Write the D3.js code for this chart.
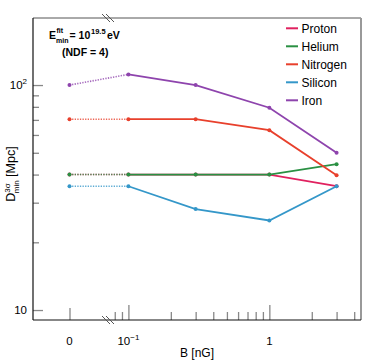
<!DOCTYPE html>
<html>
<head>
<meta charset="utf-8">
<script src="https://cdn.jsdelivr.net/npm/d3@7"></script>
<style>
  body { margin: 0; background: #fff; }
  text { font-family: "Liberation Sans", Arial, sans-serif; }
</style>
</head>
<body>
<div id="chart"></div>
<script>
// data, B = 0 drawn on its own linear piece left of the break
var fields = [0, 0.1, 0.3, 1, 3];
var names = ["Proton", "Helium", "Nitrogen", "Silicon", "Iron"];
var colors = ["#e0215f", "#2a9043", "#e8402c", "#3497c9", "#8e44ad"];
var proton   = [40, 40, 40, 40, 35.5];
var helium   = [40, 40, 40, 40, 44.5];
var nitrogen = [70.5, 70.5, 70.5, 63, 39.7];
var silicon  = [35.5, 35.5, 28.1, 25, 35.5];
var iron     = [100, 111.5, 100, 79.3, 50];
var series = [proton, helium, nitrogen, silicon, iron];

var yMajor = [10, 100];
var yMinor = [20, 30, 40, 50, 60, 70, 80, 90];
var xMajor = [0.1, 1];
var xMinor = [0.08, 0.09, 0.2, 0.3, 0.4, 0.5, 0.6, 0.7, 0.8, 0.9, 2, 3, 4];

var width = 374, height = 364;
var fLeft = 33, fRight = 361, fTop = 18, fBottom = 320;
var breakX = 108.3;

var svg = d3.select("#chart").append("svg")
    .attr("width", width)
    .attr("height", height);

var y = d3.scaleLog().domain([9.03, 198.6]).range([fBottom, fTop]);
var xZero = d3.scaleLinear().domain([-0.5, 0.5]).range([33, 106]);
var xLog = d3.scaleLog().domain([0.072, 4.47]).range([breakX, fRight]);
function xPos(v) { return v === 0 ? xZero(0) : xLog(v); }

// frame
svg.append("line").attr("x1", fLeft).attr("x2", fRight).attr("y1", fTop).attr("y2", fTop)
    .attr("stroke", "#555").attr("stroke-width", 1);
svg.append("line").attr("x1", fRight).attr("x2", fRight).attr("y1", fTop).attr("y2", fBottom)
    .attr("stroke", "#999").attr("stroke-width", 2);

// y axis
var yMinorAxis = d3.axisRight(y).tickValues(yMinor).tickSize(6).tickFormat("");
var yMajorAxis = d3.axisRight(y).tickValues(yMajor).tickSize(10).tickFormat("");
[yMinorAxis, yMajorAxis].forEach(function(ax) {
  var g = svg.append("g").attr("transform", "translate(" + fLeft + ",0)").call(ax);
  g.select(".domain").remove();
  g.selectAll(".tick line").attr("stroke", "#888").attr("stroke-width", 1.3);
});
svg.append("line").attr("x1", fLeft).attr("x2", fLeft).attr("y1", fTop).attr("y2", fBottom)
    .attr("stroke", "#111").attr("stroke-width", 1.2);

var yl = svg.append("g").attr("font-size", 11.5).attr("text-anchor", "end");
yl.append("text").attr("x", 27).attr("y", y(10) + 4).text("10");
var t100 = yl.append("text").attr("x", 27).attr("y", y(100) + 4);
t100.append("tspan").text("10");
t100.append("tspan").attr("dy", -5).attr("font-size", 8).text("2");

// x axis
var xMinorAxis = d3.axisTop(xLog).tickValues(xMinor).tickSize(8).tickFormat("");
var xMajorAxis = d3.axisTop(xLog).tickValues(xMajor).tickSize(15).tickFormat("");
[xMinorAxis, xMajorAxis].forEach(function(ax) {
  var g = svg.append("g").attr("transform", "translate(0," + fBottom + ")").call(ax);
  g.select(".domain").remove();
  g.selectAll(".tick line").attr("stroke", "#888").attr("stroke-width", 1.3);
});
var xZeroAxis = d3.axisTop(xZero).tickValues([0]).tickSize(12).tickFormat("");
var gz = svg.append("g").attr("transform", "translate(0," + fBottom + ")").call(xZeroAxis);
gz.select(".domain").remove();
gz.selectAll(".tick line").attr("stroke", "#888").attr("stroke-width", 1.3);
svg.append("line").attr("x1", fLeft).attr("x2", fRight).attr("y1", fBottom).attr("y2", fBottom)
    .attr("stroke", "#111").attr("stroke-width", 1.2);

var xl = svg.append("g").attr("font-size", 11.5).attr("text-anchor", "middle");
xl.append("text").attr("x", xZero(0)).attr("y", 345).text("0");
var t01 = xl.append("text").attr("x", xLog(0.1)).attr("y", 345);
t01.append("tspan").text("10");
t01.append("tspan").attr("dy", -5).attr("font-size", 8).text("\u22121");
xl.append("text").attr("x", xLog(1)).attr("y", 345).text("1");

svg.append("text").attr("x", 197).attr("y", 357).attr("font-size", 12)
    .attr("text-anchor", "middle").text("B [nG]");

// y title
var yt = svg.append("text").attr("font-size", 12.5).attr("text-anchor", "middle")
    .attr("transform", "translate(15,174) rotate(-90)");
yt.append("tspan").text("D");
yt.append("tspan").attr("dy", -5).attr("font-size", 8).text("3\u03c3");
yt.append("tspan").attr("dx", -10).attr("dy", 9).attr("font-size", 8).text("min");
yt.append("tspan").attr("dy", -4).text(" [Mpc]");

// axis break marks
[fTop, fBottom].forEach(function(py) {
  [0, 4].forEach(function(o) {
    svg.append("line")
      .attr("x1", 102 + o).attr("y1", py - 4)
      .attr("x2", 110 + o).attr("y2", py + 4)
      .attr("stroke", "#555").attr("stroke-width", 1);
  });
});

// annotation
var ann = svg.append("g").attr("font-weight", "bold").attr("font-size", 10.5);
ann.append("text").attr("x", 49).attr("y", 39).text("E");
ann.append("text").attr("x", 56.5).attr("y", 33).attr("font-size", 7).text("fit");
ann.append("text").attr("x", 56).attr("y", 43).attr("font-size", 7).text("min");
ann.append("text").attr("x", 69.5).attr("y", 39).text("= 10");
ann.append("text").attr("x", 91).attr("y", 34).attr("font-size", 7.5).text("19.5");
ann.append("text").attr("x", 107).attr("y", 39).text("eV");
ann.append("text").attr("x", 62).attr("y", 56).text("(NDF = 4)");

// series
var line = d3.line().x(function(d) { return xPos(d.b); }).y(function(d) { return y(d.v); });
series.forEach(function(vals, i) {
  var pts = fields.map(function(b, j) { return { b: b, v: vals[j] }; });
  svg.append("path").datum(pts.slice(0, 2)).attr("d", line)
    .attr("fill", "none").attr("stroke", colors[i]).attr("stroke-width", 1.6)
    .attr("stroke-dasharray", "1.3,1.3").attr("opacity", 0.8);
  svg.append("path").datum(pts.slice(1)).attr("d", line)
    .attr("fill", "none").attr("stroke", colors[i]).attr("stroke-width", 1.8);
  svg.selectAll(null).data(pts).enter().append("circle")
    .attr("cx", function(d) { return xPos(d.b); })
    .attr("cy", function(d) { return y(d.v); })
    .attr("r", 2).attr("fill", colors[i]);
});

// legend
var leg = svg.append("g").attr("font-size", 12);
names.forEach(function(n, i) {
  var ly = 28.3 + i * 18;
  leg.append("line").attr("x1", 286).attr("x2", 298).attr("y1", ly).attr("y2", ly)
    .attr("stroke", colors[i]).attr("stroke-width", 2);
  leg.append("text").attr("x", 301.5).attr("y", ly + 4.3).text(n);
});
</script>
</body>
</html>
